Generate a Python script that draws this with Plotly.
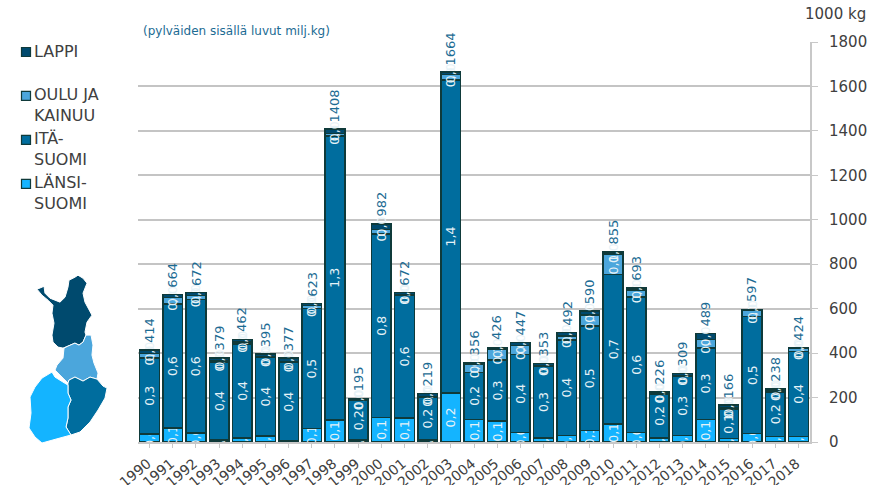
import plotly.graph_objects as go

W, H = 869, 485
LEFT, RIGHT, TOP, BOTTOM = 138, 59, 41.5, 43

years = [str(y) for y in range(1990, 2019)]
totals = [414, 664, 672, 379, 462, 395, 377, 623, 1408, 195, 982, 672, 219, 1664, 356,
          426, 447, 353, 492, 590, 855, 693, 226, 309, 489, 166, 597, 238, 424]
lansi = [37, 63, 40, 8, 18, 27, 5, 60, 100, 8, 110, 108, 8, 220, 102,
         95, 42, 18, 30, 52, 82, 42, 18, 30, 102, 15, 38, 25, 25]
oulu = [20, 30, 18, 3, 8, 2, 4, 15, 10, 2, 20, 3, 3, 25, 38,
        50, 42, 2, 18, 50, 92, 32, 3, 3, 37, 5, 27, 10, 12]
lappi = [15, 14, 12, 15, 12, 12, 16, 8, 20, 6, 25, 8, 14, 10, 5,
         8, 12, 10, 15, 18, 10, 8, 6, 10, 28, 12, 6, 4, 4]
ita = [t - a - b - c for t, a, b, c in zip(totals, lansi, oulu, lappi)]

colors = {"lansi": "#14b4ff", "ita": "#006d9e", "oulu": "#4ba6dc", "lappi": "#004a6e"}
names = {"lansi": "LÄNSI-<br>SUOMI", "ita": "ITÄ-<br>SUOMI",
         "oulu": "OULU JA<br>KAINUU", "lappi": "LAPPI"}
legend_tops = {"lappi": 47, "oulu": 91, "ita": 135, "lansi": 179}

# map outline (pixels)
map_lappi = [(37, 289), (42, 287), (44, 286), (45, 293), (50, 298), (55, 300), (60, 302), (65, 297),
             (68, 287), (69, 280), (75, 277), (78, 275), (83, 278), (87, 283), (83, 293), (85, 302),
             (92, 315), (87, 322), (85, 332), (86, 335), (83, 342), (79, 345), (75, 343), (68, 346),
             (63, 348), (58, 347), (53, 342), (52, 335), (54, 323), (52, 313), (53, 305), (48, 300), (42, 295)]
map_oulu = [(86, 335), (91, 335), (93, 345), (92, 355), (94, 363), (98, 373), (97, 379), (90, 377),
            (83, 381), (75, 377), (69, 380), (68, 383), (63, 378), (55, 370), (57, 365), (63, 358),
            (64, 348), (68, 346), (75, 343), (79, 345), (83, 342)]
map_ita = [(69, 380), (75, 377), (83, 381), (90, 377), (97, 379), (103, 386), (107, 388), (105, 398),
           (98, 410), (90, 422), (80, 432), (71, 435), (66, 427), (68, 418), (68, 407), (71, 400),
           (68, 393), (68, 383)]
map_lansi = [(52, 372), (55, 377), (63, 382), (68, 385), (68, 393), (71, 400), (68, 407), (68, 418),
             (66, 427), (71, 435), (60, 438), (42, 443), (35, 437), (29, 428), (31, 413), (30, 397),
             (35, 387), (42, 378)]


def paper_x(px):
    return (px - LEFT) / (W - LEFT - RIGHT)


def paper_y(py):
    return 1 - (py - TOP) / (H - TOP - BOTTOM)


def region(points, color):
    path = "M" + " L".join(f"{paper_x(x):.4f},{paper_y(y):.4f}" for x, y in points) + " Z"
    return dict(type="path", path=path, xref="paper", yref="paper", fillcolor=color,
                line=dict(color="white", width=1), layer="above")


def millions(values):
    return [f"{v / 1000:.1f}".replace(".", ",") for v in values]


fig = go.Figure()
for key, values in [("lansi", lansi), ("ita", ita), ("oulu", oulu), ("lappi", lappi)]:
    fig.add_trace(go.Bar(x=years, y=values, name=names[key], showlegend=False,
                         marker=dict(color=colors[key], line=dict(color="#0f3a3a", width=1.5)),
                         text=millions(values), textposition="inside", insidetextanchor="middle",
                         textangle=-90, constraintext="none",
                         textfont=dict(family="DejaVu Sans", size=12.5, color="#e6f2f7"),
                         hoverinfo="skip"))

# annotation x on a category axis is the category index
for i, total in enumerate(totals):
    fig.add_annotation(x=i, y=total, text=str(total), textangle=-90, showarrow=False,
                       yanchor="bottom", yshift=5,
                       font=dict(family="DejaVu Sans", size=13, color="#1c6b93"))

fig.add_annotation(x=paper_x(141), y=paper_y(30), xref="paper", yref="paper", xanchor="left",
                   yanchor="middle", text="(pylväiden sisällä luvut milj.kg)", showarrow=False,
                   font=dict(family="DejaVu Sans", size=12, color="#1c6b93"))
fig.add_annotation(x=paper_x(868), y=paper_y(13), xref="paper", yref="paper", xanchor="right",
                   yanchor="middle", text="1000 kg", showarrow=False,
                   font=dict(family="DejaVu Sans", size=15, color="#404040"))

shapes = [region(map_lappi, colors["lappi"]), region(map_oulu, colors["oulu"]),
          region(map_ita, colors["ita"]), region(map_lansi, colors["lansi"])]

# legend drawn by hand: the swatch sits on the first text line and close to the text
for key, top in legend_tops.items():
    shapes.append(dict(type="rect", xref="paper", yref="paper",
                       x0=paper_x(21.5), x1=paper_x(30.5), y0=paper_y(top), y1=paper_y(top + 9),
                       fillcolor=colors[key], line=dict(color="#0f3a3a", width=1.2)))
    fig.add_annotation(x=paper_x(32), y=paper_y(top - 8), xref="paper", yref="paper",
                       xanchor="left", yanchor="top", align="left", text=names[key],
                       showarrow=False, font=dict(family="DejaVu Sans", size=16, color="#404040"))

fig.update_layout(width=W, height=H, barmode="stack", bargap=0.15,
                  margin=dict(l=LEFT, r=RIGHT, t=TOP, b=BOTTOM, autoexpand=False),
                  paper_bgcolor="white", plot_bgcolor="white", showlegend=False,
                  font=dict(family="DejaVu Sans", color="#404040"), shapes=shapes)
fig.update_xaxes(type="category", tickangle=-40, ticks="outside", ticklen=4, tickcolor="#c8c8c8",
                 linecolor="#c8c8c8", linewidth=2, showgrid=False, automargin=False,
                 ticklabelstandoff=2, ticklabelshift=-2, tickfont=dict(size=14, color="#404040"))
fig.update_yaxes(side="right", range=[0, 1800], dtick=200, gridcolor="#c4c4c4", gridwidth=1.5,
                 ticks="outside", ticklen=6, tickcolor="#c8c8c8", showline=True, automargin=False,
                 linecolor="#c8c8c8", linewidth=2, zeroline=False, ticklabelstandoff=8,
                 tickfont=dict(size=15, color="#404040"))

fig.write_html("out.html", config={"displayModeBar": False},
               post_script="document.body.style.margin='0';")
